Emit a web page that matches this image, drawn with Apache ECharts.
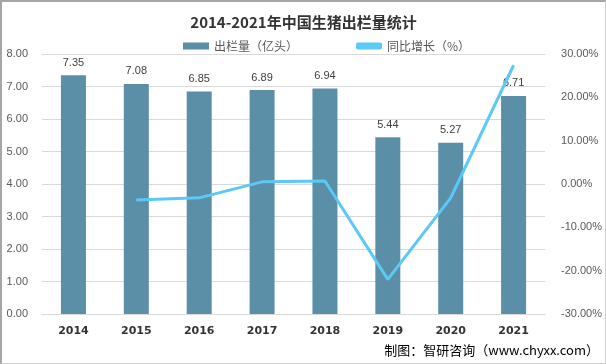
<!DOCTYPE html>
<html><head><meta charset="utf-8">
<script src="https://cdn.jsdelivr.net/npm/echarts@6/dist/echarts.min.js"></script>
<style>
html,body{margin:0;padding:0;background:#fff;}
#c{width:606px;height:364px;box-sizing:border-box;border:2px solid #a6a6a6;border-right:1px solid #d0d0d0;border-bottom:1px solid #d0d0d0;}
</style></head>
<body><div id="c"></div>
<script>
const categories = ['2014','2015','2016','2017','2018','2019','2020','2021'];
const output = [7.35, 7.08, 6.85, 6.89, 6.94, 5.44, 5.27, 6.71];
const growth = [null, -3.7, -3.2, 0.5, 0.7, -22.0, -3.2, 27.4];
const leftTicks = {min:0, max:8, interval:1};
const rightTicks = {min:-30, max:30, interval:10};

const chart = echarts.init(document.getElementById('c'));
chart.setOption({
  animation:false,
  title:{text:'2014-2021年中国生猪出栏量统计', left:'center', top:8,
    textStyle:{fontSize:15, fontWeight:'bold', color:'#333', fontFamily:'Noto Sans CJK SC'}},
  legend:{top:33, left:176, itemGap:58, itemWidth:26, itemHeight:7,
    textStyle:{fontSize:12, color:'#595959', fontFamily:'Noto Sans CJK SC'},
    data:[{name:'出栏量（亿头）', icon:'rect'},{name:'同比增长（%）', icon:'roundRect'}]},
  graphic:[{type:'text', right:6, top:342, style:{text:'制图：智研咨询（www.chyxx.com）', fontSize:13, fill:'#000', fontFamily:'Noto Sans CJK SC'}}],
  grid:{left:40, right:57, top:52, bottom:49},
  xAxis:{type:'category', data:categories,
    axisLine:{show:true, lineStyle:{color:'#d9d9d9'}}, axisTick:{show:false},
    axisLabel:{fontSize:11, fontWeight:'bold', color:'#333', margin:12, fontFamily:'DejaVu Sans'}},
  yAxis:[
    {type:'value', min:leftTicks.min, max:leftTicks.max, interval:leftTicks.interval,
     axisLabel:{formatter:v=>v.toFixed(2), fontSize:11, color:'#595959', margin:14, fontFamily:'Liberation Sans'},
     splitLine:{lineStyle:{color:'#d9d9d9'}}, axisLine:{show:false}, axisTick:{show:false}},
    {type:'value', min:rightTicks.min, max:rightTicks.max, interval:rightTicks.interval,
     axisLabel:{formatter:v=>v.toFixed(2)+'%', fontSize:11, color:'#595959', margin:16, fontFamily:'Liberation Sans'},
     splitLine:{show:false}, axisLine:{show:false}, axisTick:{show:false}}
  ],
  series:[
    {name:'出栏量（亿头）', type:'bar', data:output, barWidth:25, yAxisIndex:0,
     itemStyle:{color:'#5b8fa8'},
     label:{show:true, position:'top', distance:7, fontSize:11, color:'#404040', formatter:p=>p.value.toFixed(2), fontFamily:'Liberation Sans'}},
    {name:'同比增长（%）', type:'line', data:growth, yAxisIndex:1, symbol:'none',
     lineStyle:{color:'#5bc8f5', width:3}, itemStyle:{color:'#5bc8f5'}}
  ]
});
</script></body></html>
